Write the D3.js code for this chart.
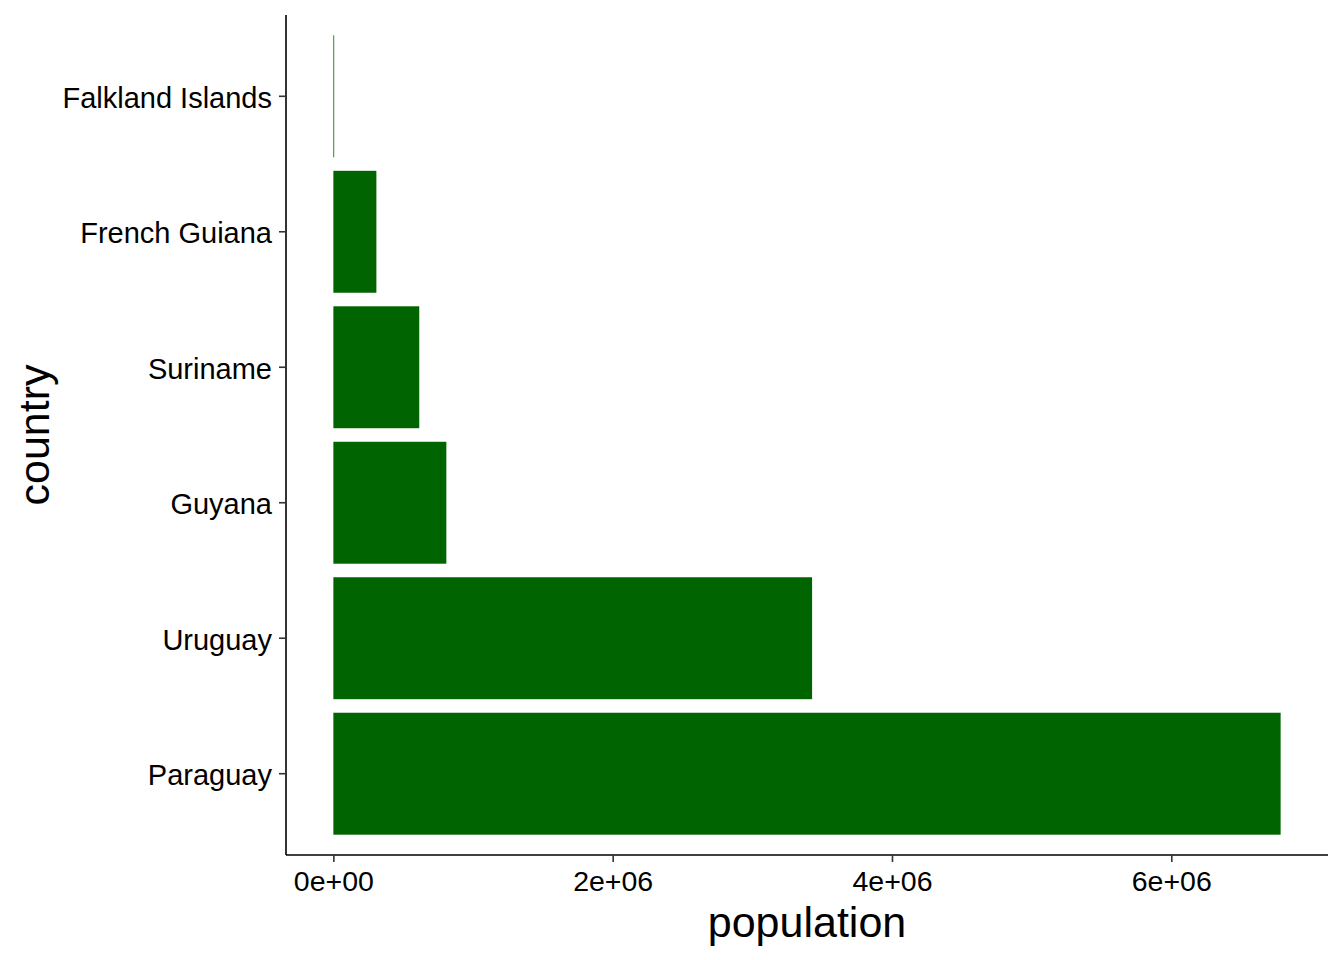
<!DOCTYPE html>
<html><head><meta charset="utf-8">
<script src="https://cdn.jsdelivr.net/npm/d3@7"></script>
<style>body{margin:0;background:#fff}svg{display:block}text{font-family:"Liberation Sans",Arial,sans-serif}</style>
</head><body><svg id="c" width="1344" height="960"></svg>
<script>
const countries = ["Paraguay","Uruguay","Guyana","Suriname","French Guiana","Falkland Islands"];
const population = [6783000, 3428000, 809000, 615000, 308000, 3000];
const xTicks = [0, 2e6, 4e6, 6e6];
const xTickLabels = ["0e+00","2e+06","4e+06","6e+06"];

const svg = d3.select("#c");
const L = 286, R = 1328, T = 15, B = 855;
const maxV = d3.max(population);
const pad = maxV * 0.05;
const x = d3.scaleLinear().domain([-pad, maxV + pad]).range([L, R]);
const y = d3.scaleBand().domain(countries).range([B, T]).paddingInner(0.1).paddingOuter(0.15);
const data = countries.map((c,i)=>({c, v: population[i]}));

svg.append("g").selectAll("rect").data(data).join("rect")
  .attr("x", x(0)).attr("y", d=>y(d.c))
  .attr("width", d=>Math.max(0.8, x(d.v)-x(0))).attr("height", y.bandwidth())
  .attr("fill", "#006400");

const xa = svg.append("g").attr("transform", `translate(0,${B})`)
  .call(d3.axisBottom(x).tickValues(xTicks).tickFormat((d,i)=>xTickLabels[i]).tickSize(7).tickPadding(9));
const ya = svg.append("g").attr("transform", `translate(${L},0)`)
  .call(d3.axisLeft(y).tickSize(7).tickPadding(7));
[xa, ya].forEach(a=>{
  a.select(".domain").attr("stroke","#000").attr("stroke-width",1.6);
  a.selectAll(".tick line").attr("stroke","#333").attr("stroke-width",1.6);
  a.selectAll(".tick text").attr("fill","#000").attr("font-size","28.5px").attr("font-family","Liberation Sans, Arial, sans-serif");
});
ya.selectAll(".tick text").attr("font-size","29px").attr("dy","0.39em");
xa.select(".domain").attr("d", `M${L},0H${R}`);
ya.select(".domain").attr("d", `M0,${T}V${B}`);

svg.append("text").attr("x", (L+R)/2).attr("y", 937).attr("text-anchor","middle")
  .attr("font-size","43px").attr("fill","#000").text("population");
svg.append("text").attr("transform", `translate(49,${(T+B)/2}) rotate(-90)`).attr("text-anchor","middle")
  .attr("font-size","43px").attr("fill","#000").text("country");
</script></body></html>
